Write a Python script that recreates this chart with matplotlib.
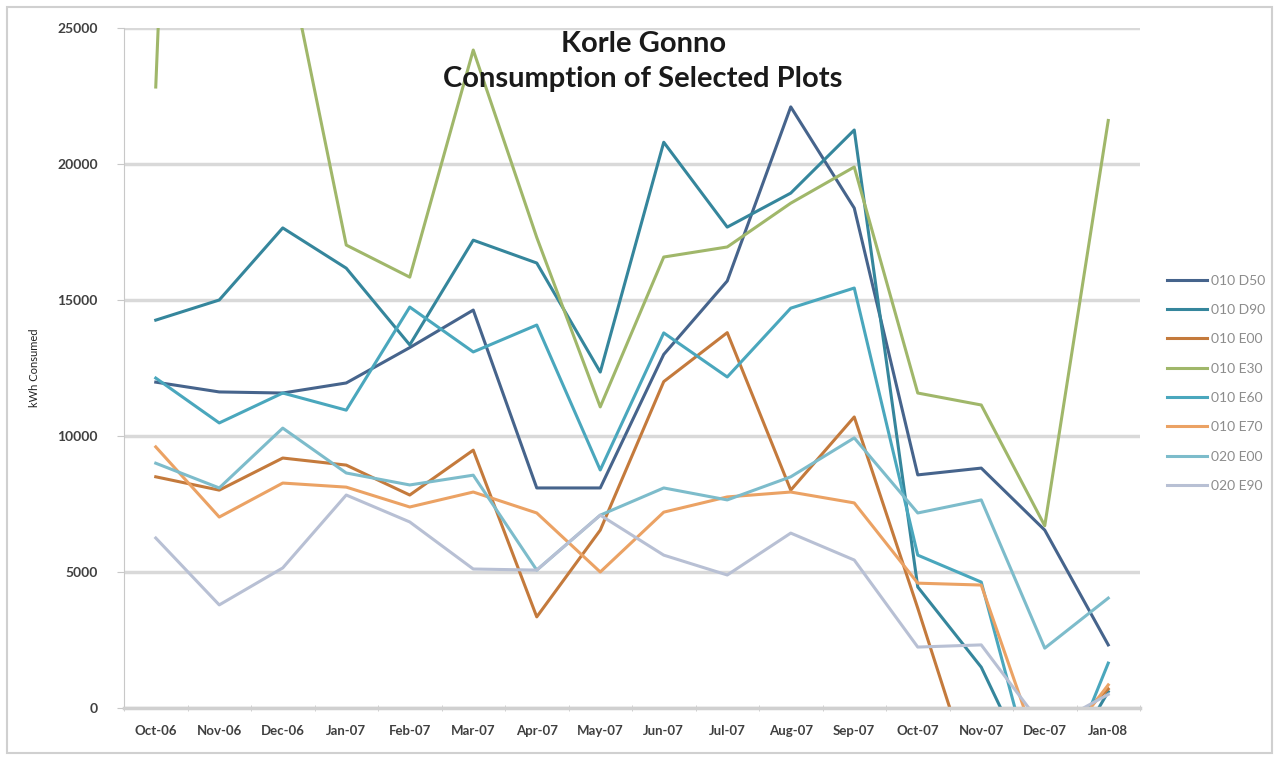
import numpy as np
import matplotlib
matplotlib.use("Agg")
from matplotlib import pyplot as plt
from matplotlib.patches import Rectangle

months = ['Oct-06', 'Nov-06', 'Dec-06', 'Jan-07', 'Feb-07', 'Mar-07', 'Apr-07', 'May-07',
          'Jun-07', 'Jul-07', 'Aug-07', 'Sep-07', 'Oct-07', 'Nov-07', 'Dec-07', 'Jan-08']

# kWh consumed per plot (values outside 0..25000 get clipped by the axis, as in the original)
d50_010 = [11980, 11620, 11580, 11950, 13250, 14630, 8090, 8090, 13000, 15700, 22100, 18380, 8570, 8820, 6540, 2320]
d90_010 = [14260, 15000, 17650, 16170, 13350, 17200, 16360, 12350, 20800, 17680, 18930, 21250, 4450, 1500, -3400, 600]
e00_010 = [8500, 8010, 9190, 8930, 7830, 9480, 3350, 6540, 12000, 13800, 8010, 10700, 3670, -3600, -1500, 700]
e30_010 = [22830, 80000, 28450, 17020, 15840, 24190, 17300, 11070, 16580, 16950, 18560, 19890, 11580, 11140, 6700, 21600]
e60_010 = [12130, 10480, 11580, 10950, 14740, 13090, 14080, 8750, 13790, 12170, 14700, 15440, 5620, 4630, -4100, 1650]
e70_010 = [9600, 7020, 8270, 8120, 7390, 7940, 7170, 5000, 7200, 7760, 7940, 7540, 4590, 4520, -2200, 850]
e00_020 = [9000, 8090, 10290, 8640, 8200, 8560, 5070, 7090, 8090, 7650, 8500, 9930, 7170, 7650, 2200, 4040]
e90_020 = [6250, 3790, 5150, 7830, 6840, 5110, 5070, 7090, 5620, 4890, 6430, 5440, 2240, 2320, -780, 500]

series = [
    ('010 D50', d50_010, '#46648c'),
    ('010 D90', d90_010, '#35869c'),
    ('010 E00', e00_010, '#c47a3c'),
    ('010 E30', e30_010, '#a0b76a'),
    ('010 E60', e60_010, '#4aa7bd'),
    ('010 E70', e70_010, '#eba264'),
    ('020 E00', e00_020, '#7dbccb'),
    ('020 E90', e90_020, '#b8c0d4'),
]

plt.rcParams['font.family'] = ['Lato', 'DejaVu Sans']

W, H = 1279, 760
fig = plt.figure(figsize=(W / 100, H / 100), dpi=100)
fig.patches.append(Rectangle((7 / W, 7 / H), 1265 / W, 746 / H, transform=fig.transFigure,
                             fill=False, edgecolor='#d0d0d0', linewidth=1.5))

ax = fig.add_axes([124 / W, 52 / H, 1016 / W, 680 / H])
x = np.arange(len(months))
for name, vals, col in series:
    ax.plot(x, vals, color=col, linewidth=2.2, label=name)

ax.set_xlim(-0.5, len(months) - 0.5)
ax.set_ylim(0, 25000)
ax.set_yticks(np.arange(0, 25001, 5000))
ax.set_xticks(x)
ax.set_xticklabels(months)
ax.set_xticks(np.arange(-0.5, len(months), 1), minor=True)
ax.tick_params(axis='x', which='major', length=0, pad=12, labelsize=9.5, labelcolor='#404040')
ax.tick_params(axis='x', which='minor', length=4, color='#c8c8c8', direction='inout')
ax.tick_params(axis='y', length=5, color='#c8c8c8', pad=14, labelsize=10, labelcolor='#404040')
for lbl in ax.get_xticklabels() + ax.get_yticklabels():
    lbl.set_fontweight('bold')

ax.grid(axis='y', color='#d9d9d9', linewidth=2.5)
ax.set_axisbelow(True)
for s in ['top', 'right']:
    ax.spines[s].set_visible(False)
ax.spines['left'].set_color('#c8c8c8')
ax.spines['bottom'].set_color('#d0d0d0')
ax.spines['bottom'].set_linewidth(2.5)

ax.set_ylabel('kWh Consumed', fontsize=8, color='#202020', labelpad=12)
ax.text(0.511, 0.995, 'Korle Gonno\nConsumption of Selected Plots', transform=ax.transAxes,
        ha='center', va='top', fontsize=21, fontweight='bold', color='#1a1a1a', linespacing=1.4)

fig.legend(loc='upper left', bbox_to_anchor=(1154 / W, 1 - 262 / H), frameon=False,
           fontsize=10, labelcolor='#8c8c8c', handlelength=2.9, handletextpad=0.3,
           labelspacing=1.25)

fig.savefig('out.png', dpi=100)
